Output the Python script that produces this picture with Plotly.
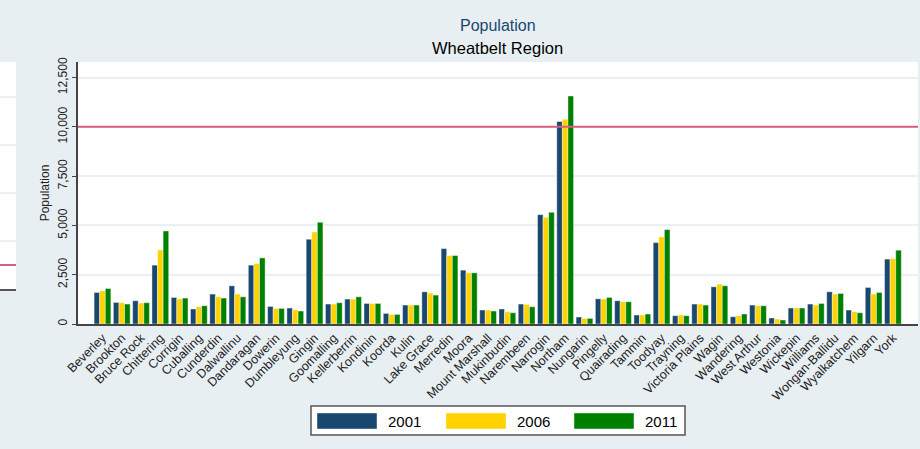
import plotly.graph_objects as go

categories = ["Beverley", "Brookton", "Bruce Rock", "Chittering", "Corrigin", "Cuballing",
              "Cunderdin", "Dalwallinu", "Dandaragan", "Dowerin", "Dumbleyung", "Gingin",
              "Goomalling", "Kellerberrin", "Kondinin", "Koorda", "Kulin", "Lake Grace",
              "Merredin", "Moora", "Mount Marshall", "Mukinbudin", "Narembeen", "Narrogin",
              "Northam", "Nungarin", "Pingelly", "Quairading", "Tammin", "Toodyay",
              "Trayning", "Victoria Plains", "Wagin", "Wandering", "West Arthur", "Westonia",
              "Wickepin", "Williams", "Wongan-Ballidu", "Wyalkatchem", "Yilgarn", "York"]

pop_2001 = [1600, 1093, 1180, 2985, 1346, 760, 1518, 1938, 2985, 890, 810, 4300,
            1012, 1265, 1042, 536, 961, 1634, 3825, 2732, 708, 760, 1012, 5546,
            10272, 354, 1280, 1180, 455, 4130, 420, 1012, 1887, 370, 961, 304,
            810, 1012, 1634, 708, 1853, 3290]
pop_2006 = [1685, 1080, 1063, 3760, 1265, 875, 1380, 1518, 3066, 790, 724, 4670,
            1012, 1265, 1042, 486, 961, 1568, 3471, 2596, 708, 622, 995, 5414,
            10388, 283, 1265, 1128, 455, 4417, 455, 1012, 2024, 420, 926, 253,
            810, 961, 1518, 622, 1518, 3321]
pop_2011 = [1800, 1012, 1080, 4720, 1315, 926, 1315, 1380, 3355, 790, 658, 5160,
            1080, 1380, 1042, 486, 961, 1467, 3471, 2596, 658, 572, 875, 5667,
            11567, 283, 1346, 1128, 506, 4787, 420, 961, 1938, 506, 926, 202,
            810, 1042, 1550, 572, 1600, 3744]

series_names = ["2001", "2006", "2011"]
series_colors = ["#1a476f", "#ffd200", "#008000"]
y_ticks = [0, 2500, 5000, 7500, 10000, 12500]
y_tick_labels = ["0", "2,500", "5,000", "7,500", "10,000", "12,500"]
reference_value = 10000

BG = "#e8eff2"
RED = "#d9607c"
W, H = 920, 449
L, R, T, B = 0, 2, 62, 125
pw, ph = W - L - R, H - T - B
PLOT_LEFT = 78

def px(x):
    return (x - L) / pw

def py(y):
    return (H - B - y) / ph

fig = go.Figure()
for name, vals, col in zip(series_names, [pop_2001, pop_2006, pop_2011], series_colors):
    fig.add_trace(go.Bar(x=categories, y=vals, name=name, marker_color=col,
                         marker_line=dict(color="rgba(255,255,255,0.7)", width=0.6),
                         showlegend=False, xaxis="x", yaxis="y"))

# empty subplot standing in for the neighbouring (cut-off) panel at the left edge
fig.add_trace(go.Scatter(x=[], y=[], xaxis="x2", yaxis="y2", showlegend=False))

shapes = [
    # reference line at 10,000 in the main panel
    dict(type="line", xref="x domain", yref="y", x0=0, x1=1,
         y0=reference_value, y1=reference_value, line=dict(color=RED, width=2)),
    # red line in the cut-off left panel
    dict(type="line", xref="paper", yref="paper", x0=0, x1=px(16), y0=py(265), y1=py(265),
         line=dict(color=RED, width=2), layer="above"),
]

# custom legend
shapes.append(dict(type="rect", xref="paper", yref="paper", x0=px(311), x1=px(685),
                   y0=py(435), y1=py(406), fillcolor="white",
                   line=dict(color="#555555", width=1.5)))
annotations = []
for x0, name, col in zip([317, 446, 574], series_names, series_colors):
    shapes.append(dict(type="rect", xref="paper", yref="paper", x0=px(x0), x1=px(x0 + 60),
                       y0=py(429), y1=py(413), fillcolor=col,
                       line=dict(color="rgba(255,255,255,0.7)", width=0.6)))
    annotations.append(dict(xref="paper", yref="paper", x=px(x0 + 69), y=py(421),
                            text=name, showarrow=False, xanchor="left", yanchor="middle",
                            font=dict(size=15, color="black")))

# titles
mid = (PLOT_LEFT + W - R) / 2
annotations.append(dict(xref="paper", yref="paper", x=px(mid), y=py(25), text="Population",
                        showarrow=False, xanchor="center", yanchor="middle",
                        font=dict(size=16, color="#1a476f")))
annotations.append(dict(xref="paper", yref="paper", x=px(mid), y=py(48), text="Wheatbelt Region",
                        showarrow=False, xanchor="center", yanchor="middle",
                        font=dict(size=16.5, color="black")))

fig.update_layout(
    width=W, height=H,
    margin=dict(l=L, r=R, t=T, b=B),
    paper_bgcolor=BG, plot_bgcolor="white",
    font=dict(family="Liberation Sans, Arial, sans-serif", color="#222222"),
    barmode="group", bargap=0.13, bargroupgap=0,
    shapes=shapes, annotations=annotations,
    showlegend=False,
    xaxis=dict(domain=[px(PLOT_LEFT), 1], anchor="y", range=[-1.27, 42.3], tickangle=-45,
               tickfont=dict(size=12.5, color="#222222"),
               showline=True, linecolor="#444444", linewidth=1.5, showgrid=False,
               ticks="", automargin=False),
    yaxis=dict(domain=[0, 1], anchor="x", range=[0, 13290], tickvals=y_ticks,
               ticktext=y_tick_labels, tickangle=-90, tickfont=dict(size=12, color="#222222"),
               title=dict(text="Population", font=dict(size=12, color="#222222"), standoff=4),
               showline=True, linecolor="#444444", linewidth=1.5, ticks="outside",
               ticklen=4, tickcolor="#444444", gridcolor="#eaf1f3", gridwidth=1.5,
               zeroline=False, automargin=False),
    xaxis2=dict(domain=[0, px(16)], anchor="y2", range=[0, 1], showticklabels=False,
                ticks="", showgrid=False, zeroline=False, showline=True,
                linecolor="#555555", linewidth=2, fixedrange=True),
    yaxis2=dict(domain=[py(289), 1], anchor="x2", range=[0, 4.73], tickvals=[1, 2, 3, 4],
                showticklabels=False, ticks="", showgrid=True, gridcolor="#eaf1f3",
                gridwidth=1.5, zeroline=False, showline=False, fixedrange=True),
)

fig.write_html("out.html", config={"displayModeBar": False},
               post_script="document.body.style.margin='0';document.body.style.background='" + BG + "';")
